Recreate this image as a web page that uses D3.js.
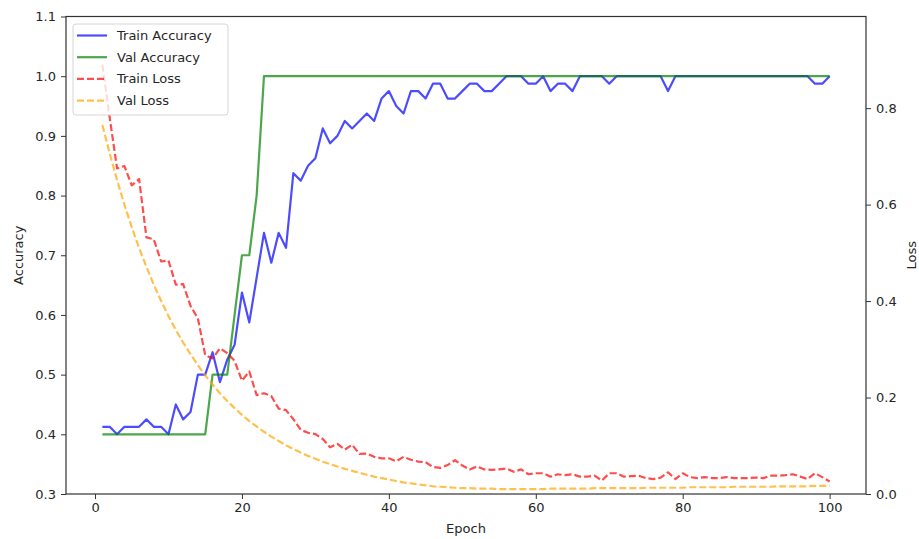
<!DOCTYPE html>
<html>
<head>
<meta charset="utf-8">
<script src="https://cdn.jsdelivr.net/npm/d3@7"></script>
<style>
  html, body { margin: 0; padding: 0; background: #fff; }
  svg { display: block; font-family: "DejaVu Sans", sans-serif; }
</style>
</head>
<body>
<svg id="chart" width="919" height="539"></svg>
<script>
// ---- data ----
const epochs = d3.range(1, 101);

const trainAccuracy = [
  0.4125, 0.4125, 0.4, 0.4125, 0.4125, 0.4125, 0.425, 0.4125, 0.4125, 0.4,
  0.45, 0.425, 0.4375, 0.5, 0.5, 0.5375, 0.4875, 0.525, 0.55, 0.6375,
  0.5875, 0.6625, 0.7375, 0.6875, 0.7375, 0.7125, 0.8375, 0.825, 0.85, 0.8625,
  0.9125, 0.8875, 0.9, 0.925, 0.9125, 0.925, 0.9375, 0.925, 0.9625, 0.975,
  0.95, 0.9375, 0.975, 0.975, 0.9625, 0.9875, 0.9875, 0.9625, 0.9625, 0.975,
  0.9875, 0.9875, 0.975, 0.975, 0.9875, 1, 1, 1, 0.9875, 0.9875,
  1, 0.975, 0.9875, 0.9875, 0.975, 1, 1, 1, 1, 0.9875,
  1, 1, 1, 1, 1, 1, 1, 0.975, 1, 1,
  1, 1, 1, 1, 1, 1, 1, 1, 1, 1,
  1, 1, 1, 1, 1, 1, 1, 0.9875, 0.9875, 1
];

const valAccuracy = [
  0.4, 0.4, 0.4, 0.4, 0.4, 0.4, 0.4, 0.4, 0.4, 0.4,
  0.4, 0.4, 0.4, 0.4, 0.4, 0.5, 0.5, 0.5, 0.6, 0.7,
  0.7, 0.8, 1, 1, 1, 1, 1, 1, 1, 1,
  1, 1, 1, 1, 1, 1, 1, 1, 1, 1,
  1, 1, 1, 1, 1, 1, 1, 1, 1, 1,
  1, 1, 1, 1, 1, 1, 1, 1, 1, 1,
  1, 1, 1, 1, 1, 1, 1, 1, 1, 1,
  1, 1, 1, 1, 1, 1, 1, 1, 1, 1,
  1, 1, 1, 1, 1, 1, 1, 1, 1, 1,
  1, 1, 1, 1, 1, 1, 1, 1, 1, 1
];

const trainLoss = [
  0.89, 0.78, 0.675, 0.68, 0.64, 0.653, 0.532, 0.528, 0.482, 0.484,
  0.434, 0.435, 0.39, 0.364, 0.288, 0.281, 0.302, 0.292, 0.276, 0.235,
  0.254, 0.205, 0.209, 0.203, 0.177, 0.174, 0.155, 0.133, 0.127, 0.124,
  0.114, 0.097, 0.104, 0.092, 0.102, 0.083, 0.084, 0.077, 0.074, 0.074,
  0.068, 0.077, 0.071, 0.067, 0.066, 0.056, 0.054, 0.06, 0.07, 0.059,
  0.051, 0.057, 0.051, 0.05, 0.051, 0.053, 0.046, 0.051, 0.041, 0.043,
  0.043, 0.036, 0.041, 0.039, 0.041, 0.036, 0.036, 0.038, 0.028, 0.043,
  0.043, 0.036, 0.037, 0.038, 0.033, 0.031, 0.034, 0.045, 0.031, 0.043,
  0.035, 0.033, 0.035, 0.033, 0.033, 0.035, 0.033, 0.033, 0.033, 0.034,
  0.033, 0.038, 0.038, 0.039, 0.041, 0.036, 0.031, 0.043, 0.035, 0.026
];

const valLoss = [
  0.765, 0.706, 0.651, 0.600, 0.553, 0.510, 0.471, 0.434, 0.400, 0.369,
  0.340, 0.314, 0.290, 0.267, 0.246, 0.227, 0.209, 0.193, 0.178, 0.164,
  0.151, 0.140, 0.129, 0.119, 0.110, 0.101, 0.093, 0.086, 0.079, 0.073,
  0.067, 0.062, 0.057, 0.052, 0.048, 0.044, 0.040, 0.036, 0.033, 0.030,
  0.027, 0.024, 0.022, 0.020, 0.018, 0.016, 0.015, 0.014, 0.013, 0.012,
  0.012, 0.011, 0.011, 0.011, 0.010, 0.010, 0.010, 0.010, 0.010, 0.010,
  0.010, 0.011, 0.011, 0.011, 0.011, 0.011, 0.011, 0.012, 0.012, 0.012,
  0.012, 0.012, 0.012, 0.012, 0.013, 0.013, 0.013, 0.013, 0.013, 0.013,
  0.014, 0.014, 0.014, 0.014, 0.014, 0.014, 0.015, 0.015, 0.015, 0.015,
  0.015, 0.015, 0.016, 0.016, 0.016, 0.016, 0.016, 0.017, 0.017, 0.017
];

const xTicks = [0, 20, 40, 60, 80, 100];
const accTicks = [0.3, 0.4, 0.5, 0.6, 0.7, 0.8, 0.9, 1.0, 1.1];
const lossTicks = [0.0, 0.2, 0.4, 0.6, 0.8];

const seriesInfo = [
  { name: "Train Accuracy", values: trainAccuracy, color: "#0000ff", dash: null, axis: "acc" },
  { name: "Val Accuracy", values: valAccuracy, color: "#008000", dash: null, axis: "acc" },
  { name: "Train Loss", values: trainLoss, color: "#ff0000", dash: "7,3", axis: "loss" },
  { name: "Val Loss", values: valLoss, color: "#ffa500", dash: "7,3", axis: "loss" }
];

// ---- layout ----
const svg = d3.select("#chart");
const L = 66, R = 866, T = 16.5, B = 494;

const x = d3.scaleLinear().domain([-3.95, 104.95]).range([L, R]);
const yAcc = d3.scaleLinear().domain([0.3, 1.1]).range([B, T]);
const yLoss = d3.scaleLinear().domain([0, 0.99]).range([B, T]);

const textColor = "#262626";
const fontSize = 13;

function styleAxis(g) {
  g.selectAll(".domain").remove();
  g.selectAll(".tick line").attr("stroke", "#333").attr("stroke-width", 1);
  g.selectAll(".tick text").attr("fill", textColor).attr("font-size", fontSize)
    .attr("font-family", "DejaVu Sans, sans-serif");
}

// axes
svg.append("g").attr("transform", `translate(0,${B})`)
  .call(d3.axisBottom(x).tickValues(xTicks).tickFormat(d3.format("d")).tickSize(5).tickPadding(4))
  .call(styleAxis);
svg.append("g").attr("transform", `translate(${L},0)`)
  .call(d3.axisLeft(yAcc).tickValues(accTicks).tickFormat(d3.format(".1f")).tickSize(5).tickPadding(5))
  .call(styleAxis);
svg.append("g").attr("transform", `translate(${R},0)`)
  .call(d3.axisRight(yLoss).tickValues(lossTicks).tickFormat(d3.format(".1f")).tickSize(5).tickPadding(5))
  .call(styleAxis);

// clip
svg.append("defs").append("clipPath").attr("id", "plotclip")
  .append("rect").attr("x", L).attr("y", T).attr("width", R - L).attr("height", B - T);

const plot = svg.append("g").attr("clip-path", "url(#plotclip)");

function drawSeries(s) {
  const yS = s.axis === "acc" ? yAcc : yLoss;
  const line = d3.line().x((d, i) => x(epochs[i])).y(d => yS(d));
  const p = plot.append("path").datum(s.values)
    .attr("d", line)
    .attr("fill", "none")
    .attr("stroke", s.color)
    .attr("stroke-opacity", 0.7)
    .attr("stroke-width", 2.2)
    .attr("stroke-linejoin", "round");
  if (s.dash) p.attr("stroke-dasharray", s.dash);
}

// accuracy lines (primary axes)
seriesInfo.filter(s => s.axis === "acc").forEach(drawSeries);

// legend (belongs to primary axes, below the twin-axis lines)
const lg = svg.append("g");
lg.append("rect").attr("x", 73).attr("y", 24).attr("width", 155).attr("height", 91)
  .attr("rx", 3).attr("fill", "#fff").attr("fill-opacity", 0.8)
  .attr("stroke", "#d6d6d6").attr("stroke-width", 1);
seriesInfo.forEach((s, i) => {
  const yy = 35.5 + i * 21.7;
  const ln = lg.append("line").attr("x1", 77).attr("x2", 107).attr("y1", yy).attr("y2", yy)
    .attr("stroke", s.color).attr("stroke-opacity", 0.7).attr("stroke-width", 2.2);
  if (s.dash) ln.attr("stroke-dasharray", s.dash);
  lg.append("text").attr("x", 117).attr("y", yy).attr("dy", "0.35em")
    .attr("font-size", fontSize).attr("fill", textColor).text(s.name);
});

// loss lines (twin axes, drawn on top)
seriesInfo.filter(s => s.axis === "loss").forEach(drawSeries);

// frame
svg.append("rect").attr("x", L).attr("y", T).attr("width", R - L).attr("height", B - T)
  .attr("fill", "none").attr("stroke", "#333").attr("stroke-width", 1.2);

// axis labels
svg.append("text").attr("x", (L + R) / 2).attr("y", 528).attr("dy", "0.35em")
  .attr("text-anchor", "middle").attr("font-size", fontSize).attr("fill", textColor).text("Epoch");
svg.append("text").attr("transform", `translate(18,${(T + B) / 2}) rotate(-90)`)
  .attr("dy", "0.35em").attr("text-anchor", "middle").attr("font-size", fontSize)
  .attr("fill", textColor).text("Accuracy");
svg.append("text").attr("transform", `translate(911,${(T + B) / 2}) rotate(-90)`)
  .attr("dy", "0.35em").attr("text-anchor", "middle").attr("font-size", fontSize)
  .attr("fill", textColor).text("Loss");
</script>
</body>
</html>
